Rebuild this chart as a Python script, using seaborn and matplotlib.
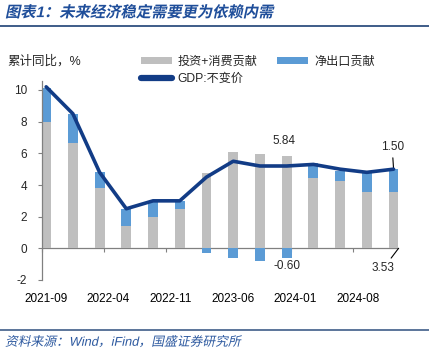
import numpy as np
import pandas as pd
import matplotlib
matplotlib.use("Agg")
import matplotlib.pyplot as plt
import seaborn as sns
from matplotlib import patheffects as pe
from matplotlib.transforms import Affine2D
from matplotlib.lines import Line2D
from matplotlib.patches import Patch

# ---------------- data ----------------
quarters = ['2021-09', '2021-12', '2022-03', '2022-06', '2022-09', '2022-12', '2023-03',
            '2023-06', '2023-09', '2023-12', '2024-03', '2024-06', '2024-09', '2024-12']
domestic = [8.0, 6.67, 3.83, 1.41, 1.96, 2.46, 4.74, 6.10, 5.96, 5.84, 4.46, 4.25, 3.58, 3.53]
net_exports = [2.10, 1.80, 0.97, 1.07, 1.03, 0.53, -0.32, -0.62, -0.80, -0.60, 0.90, 0.65, 1.20, 1.50]
gdp = [10.2, 8.5, 4.8, 2.5, 3.0, 3.0, 4.5, 5.5, 5.2, 5.2, 5.3, 5.0, 4.8, 5.0]
tick_labels = ['2021-09', '2022-04', '2022-11', '2023-06', '2024-01', '2024-08']

series_names = ['投资+消费贡献', '净出口贡献', 'GDP:不变价']
title = '图表1：未来经济稳定需要更为依赖内需'
ylabel = '累计同比，%'
source = '资料来源：Wind，iFind，国盛证券研究所'

GRAY = '#BFBFBF'
BLUE = '#5B9BD5'
NAVY = '#123C86'
AXC = '#808080'


def month_index(s):
    y, m = s.split('-')
    return (int(y) - 2021) * 12 + int(m) - 9


pos = np.array([month_index(q) + 0.5 for q in quarters])
dom = np.array(domestic)
nx = np.array(net_exports)
# blue drawn first as full stack height (positive) or own height (negative); gray overlays
blue_h = np.where(nx > 0, dom + nx, nx)

df = pd.DataFrame({'pos': pos, 'dom': dom, 'blue_h': blue_h, 'gdp': gdp})

# ---------------- style ----------------
sns.set_style('white')
plt.rcParams['font.family'] = ['Liberation Sans', 'Noto Sans CJK SC']
plt.rcParams['axes.unicode_minus'] = False


class Skew(pe.AbstractPathEffect):
    def __init__(self, deg=12):
        super().__init__()
        self._deg = deg

    def draw_path(self, renderer, gc, tpath, affine, rgbFace=None):
        renderer.draw_path(gc, tpath, Affine2D().skew_deg(self._deg, 0) + affine, rgbFace)


W, H = 429, 364
fig = plt.figure(figsize=(W / 100, H / 100), dpi=100)
ax = fig.add_axes([41.7 / W, 1 - 280 / H, (398 - 41.7) / W, (280 - 80.5) / H])

bar_w = 0.373
sns.barplot(data=df, x='pos', y='blue_h', native_scale=True, color=BLUE, saturation=1,
            width=bar_w, errorbar=None, linewidth=0, ax=ax)
sns.barplot(data=df, x='pos', y='dom', native_scale=True, color=GRAY, saturation=1,
            width=bar_w, errorbar=None, linewidth=0, ax=ax)
sns.lineplot(data=df, x='pos', y='gdp', color=NAVY, linewidth=2.6, ax=ax, zorder=5)

ymin, ymax = -2, 10.6
ax.set_ylim(ymin, ymax)
ax.set_xlim(0, 40)
ax.set_yticks(np.arange(-2, 11, 2))
tick_pos = np.array([month_index(t) for t in tick_labels])
ax.set_xticks(tick_pos + 0.5)
ax.set_xticklabels(tick_labels)
ax.set_xlabel('')
ax.set_ylabel('')
ax.tick_params(axis='x', length=0, pad=9, labelsize=8.5, colors='black')
ax.tick_params(axis='y', length=3, width=0.8, color=AXC, pad=7.5, labelsize=8.5, direction='out', left=True)
for s in ['top', 'right', 'bottom']:
    ax.spines[s].set_visible(False)
ax.spines['left'].set_color(AXC)
ax.spines['left'].set_linewidth(0.9)

# zero axis line with tick marks
sec = ax.secondary_xaxis((0 - ymin) / (ymax - ymin))
sec.set_xticks(tick_pos)
sec.set_xticklabels([])
sec.tick_params(axis='x', length=3, width=0.8, color=AXC, direction='out')
for s in sec.spines.values():
    s.set_color(AXC)
    s.set_linewidth(0.9)

# annotations
fs = 8.5
i9 = 9
ax.annotate(f'{domestic[i9]:.2f}', xy=(pos[i9], dom[i9]), xytext=(-2, 11), textcoords='offset points',
            ha='center', va='center', fontsize=fs)
ax.annotate(f'{net_exports[i9]:.2f}', xy=(pos[i9], nx[i9]), xytext=(0, -6), textcoords='offset points',
            ha='center', va='center', fontsize=fs)
il = len(quarters) - 1
ax.annotate(f'{net_exports[il]:.2f}', xy=(pos[il], dom[il] + nx[il]), xytext=(-1, 15.5),
            textcoords='offset points', ha='center', va='center', fontsize=fs,
            arrowprops=dict(arrowstyle='-', color='black', lw=0.8, shrinkA=1, shrinkB=0))
ax.annotate(f'{domestic[il]:.2f}', xy=(pos[il] + bar_w * 3 / 2, 0), xytext=(-11, -14.5),
            textcoords='offset points', ha='center', va='center', fontsize=fs,
            annotation_clip=False,
            arrowprops=dict(arrowstyle='-', color='black', lw=0.8, shrinkA=1, shrinkB=0))

# legend
handles = [Patch(facecolor=GRAY, edgecolor='none', label=series_names[0]),
           Line2D([], [], color=NAVY, lw=4.5, label=series_names[2]),
           Patch(facecolor=BLUE, edgecolor='none', label=series_names[1])]
fig.legend(handles=handles, ncol=2, loc='upper left', bbox_to_anchor=(141 / W, 1 - 55.5 / H),
           frameon=False, fontsize=8.7, handlelength=2.6, handleheight=0.55, handletextpad=0.45,
           columnspacing=1.6, borderpad=0, borderaxespad=0, labelspacing=0.45)

# header / footer
fig.text(5 / W, 1 - 12.5 / H, title, fontsize=11, weight='bold', color='#1F4E9A',
         ha='left', va='center', path_effects=[Skew(12)])
fig.add_artist(Line2D([0, 1], [1 - 25.5 / H, 1 - 25.5 / H], color='#2F4F7F', lw=1.3,
                      transform=fig.transFigure))
fig.text(7 / W, 1 - 61 / H, ylabel, fontsize=9, ha='left', va='center')
fig.add_artist(Line2D([0, 1], [1 - 329.5 / H, 1 - 329.5 / H], color='#2F4F7F', lw=1.1,
                      transform=fig.transFigure))
fig.text(5 / W, 1 - 342.5 / H, source, fontsize=9.2, color='#2E5AA0',
         ha='left', va='center', path_effects=[Skew(12)])

fig.savefig('out.png', dpi=100)
